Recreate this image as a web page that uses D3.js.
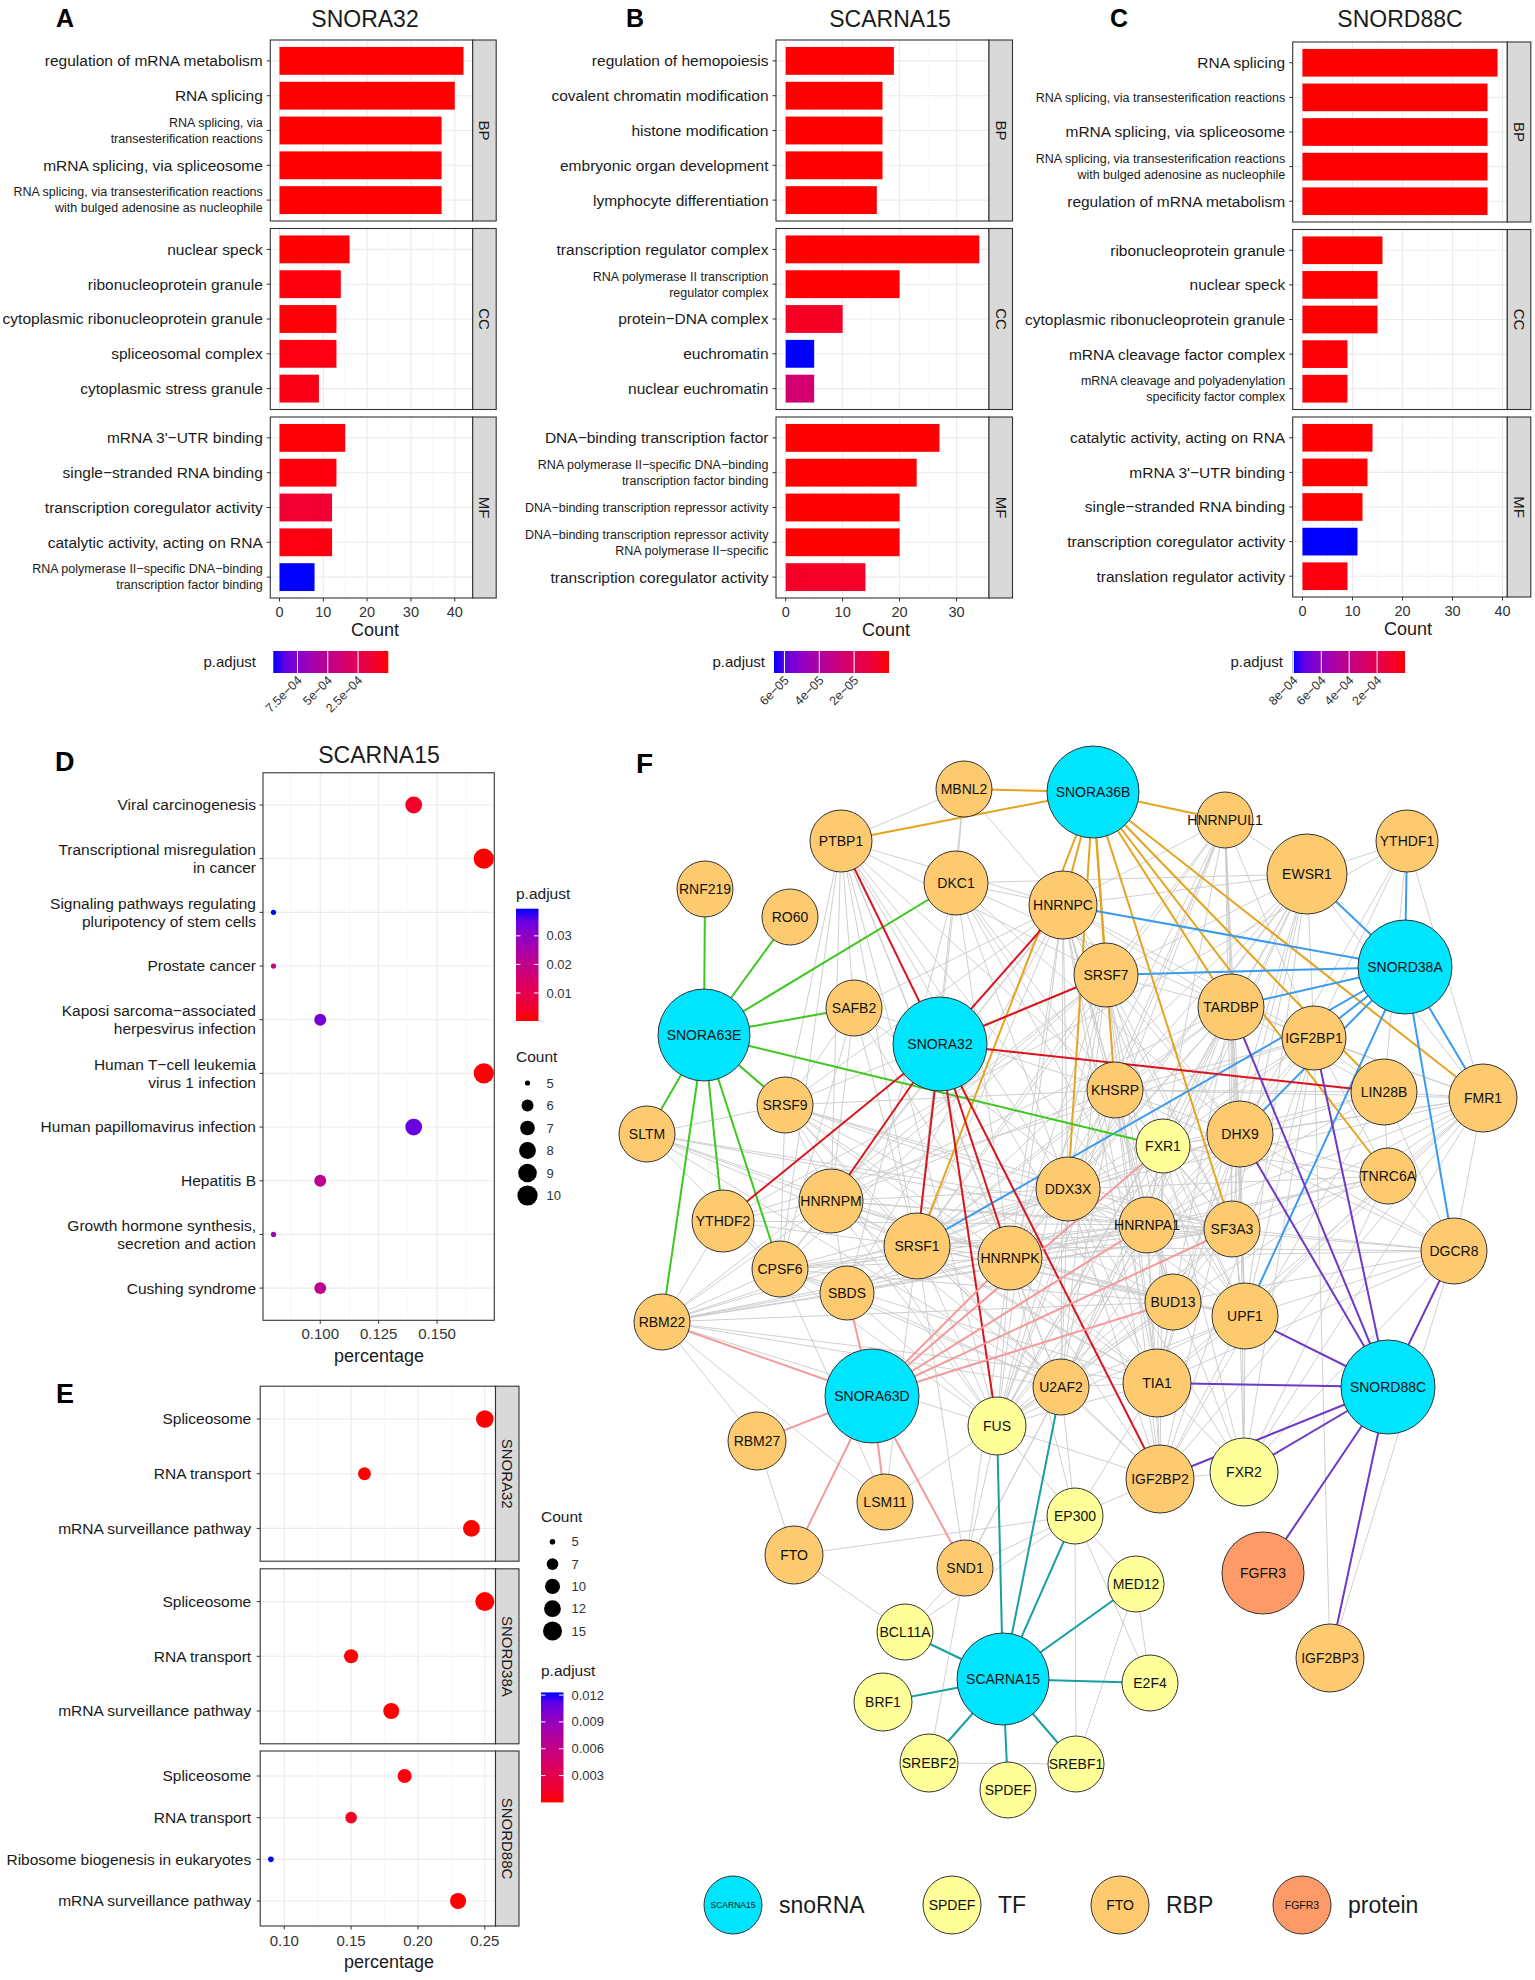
<!DOCTYPE html>
<html>
<head>
<meta charset="utf-8">
<title>snoRNA enrichment and network</title>
<script src="https://cdn.jsdelivr.net/npm/d3@7"></script>
<style>
  body { margin: 0; background: #fff; }
  svg { font-family: "Liberation Sans", Arial, Helvetica, sans-serif; }
</style>
</head>
<body>
<div id="figure"></div>
<script>
// ---------- data: GO barplots (A-C) ----------
const ontologies = ["BP", "CC", "MF"];

const termsA = [
  "regulation of mRNA metabolism", "RNA splicing", "RNA splicing, via\ntransesterification reactions",
  "mRNA splicing, via spliceosome", "RNA splicing, via transesterification reactions\nwith bulged adenosine as nucleophile",
  "nuclear speck", "ribonucleoprotein granule", "cytoplasmic ribonucleoprotein granule",
  "spliceosomal complex", "cytoplasmic stress granule",
  "mRNA 3'−UTR binding", "single−stranded RNA binding", "transcription coregulator activity",
  "catalytic activity, acting on RNA", "RNA polymerase II−specific DNA−binding\ntranscription factor binding"];
const countA = [42, 40, 37, 37, 37, 16, 14, 13, 13, 9, 15, 13, 12, 12, 8];
const padjA = [2e-9, 4e-9, 1e-8, 1e-8, 1e-8, 3e-6, 2e-5, 1e-5, 3e-5, 4e-5, 1e-5, 2e-5, 1.2e-4, 3e-5, 9.5e-4];
const legTicksA = [7.5e-4, 5e-4, 2.5e-4];
const legLabelsA = ["7.5e−04", "5e−04", "2.5e−04"];

const termsB = [
  "regulation of hemopoiesis", "covalent chromatin modification", "histone modification",
  "embryonic organ development", "lymphocyte differentiation",
  "transcription regulator complex", "RNA polymerase II transcription\nregulator complex",
  "protein−DNA complex", "euchromatin", "nuclear euchromatin",
  "DNA−binding transcription factor", "RNA polymerase II−specific DNA−binding\ntranscription factor binding",
  "DNA−binding transcription repressor activity", "DNA−binding transcription repressor activity\nRNA polymerase II−specific",
  "transcription coregulator activity"];
const countB = [19, 17, 17, 17, 16, 34, 20, 10, 5, 5, 27, 23, 20, 20, 14];
const padjB = [1e-9, 5e-9, 5e-9, 8e-9, 2e-8, 1e-10, 1e-8, 5.5e-6, 6.6e-5, 2.6e-5, 1e-9, 1e-9, 2e-9, 2e-9, 6.5e-6];
const legTicksB = [6e-5, 4e-5, 2e-5];
const legLabelsB = ["6e−05", "4e−05", "2e−05"];

const termsC = [
  "RNA splicing", "RNA splicing, via transesterification reactions", "mRNA splicing, via spliceosome",
  "RNA splicing, via transesterification reactions\nwith bulged adenosine as nucleophile", "regulation of mRNA metabolism",
  "ribonucleoprotein granule", "nuclear speck", "cytoplasmic ribonucleoprotein granule",
  "mRNA cleavage factor complex", "mRNA cleavage and polyadenylation\nspecificity factor complex",
  "catalytic activity, acting on RNA", "mRNA 3'−UTR binding", "single−stranded RNA binding",
  "transcription coregulator activity", "translation regulator activity"];
const countC = [39, 37, 37, 37, 37, 16, 15, 15, 9, 9, 14, 13, 12, 11, 9];
const padjC = [1e-9, 2e-9, 2e-9, 2e-9, 3e-9, 1e-6, 2e-6, 2e-6, 1e-5, 1e-5, 1e-6, 3e-6, 5e-6, 8.05e-4, 2e-5];
const legTicksC = [8e-4, 6e-4, 4e-4, 2e-4];
const legLabelsC = ["8e−04", "6e−04", "4e−04", "2e−04"];

// ---------- data: KEGG dotplot (D) ----------
const keggD = ["Viral carcinogenesis", "Transcriptional misregulation\nin cancer",
  "Signaling pathways regulating\npluripotency of stem cells", "Prostate cancer",
  "Kaposi sarcoma−associated\nherpesvirus infection", "Human T−cell leukemia\nvirus 1 infection",
  "Human papillomavirus infection", "Hepatitis B", "Growth hormone synthesis,\nsecretion and action",
  "Cushing syndrome"];
const pctD = [0.140, 0.170, 0.080, 0.080, 0.100, 0.170, 0.140, 0.100, 0.080, 0.100];
const countD = [8, 10, 5, 5, 6, 10, 8, 6, 5, 6];
const padjD = [0.004, 0.0002, 0.0395, 0.018, 0.033, 0.0005, 0.035, 0.021, 0.026, 0.021];
const xTicksD = [0.100, 0.125, 0.150];
const padjTicksD = [0.01, 0.02, 0.03];
const countBreaksD = [5, 6, 7, 8, 9, 10];

// ---------- data: KEGG dotplot per snoRNA (E) ----------
const snoE = ["SNORA32", "SNORD38A", "SNORD88C"];
const groupE = ["SNORA32", "SNORA32", "SNORA32", "SNORD38A", "SNORD38A", "SNORD38A",
  "SNORD88C", "SNORD88C", "SNORD88C", "SNORD88C"];
const keggE = ["Spliceosome", "RNA transport", "mRNA surveillance pathway",
  "Spliceosome", "RNA transport", "mRNA surveillance pathway",
  "Spliceosome", "RNA transport", "Ribosome biogenesis in eukaryotes", "mRNA surveillance pathway"];
const pctE = [0.25, 0.16, 0.24, 0.25, 0.15, 0.18, 0.19, 0.15, 0.09, 0.23];
const countE = [13, 8, 12, 15, 9, 11, 9, 7, 5, 11];
const padjE = [1e-9, 2e-6, 1e-8, 1e-10, 1e-5, 3e-7, 2e-4, 9e-4, 0.0123, 1e-5];
const xTicksE = [0.10, 0.15, 0.20, 0.25];
const padjTicksE = [0.003, 0.006, 0.009, 0.012];
const countBreaksE = [5, 7, 10, 12, 15];

// ---------- data: network (F) ----------
// name, type, layout x, layout y, node size
const nodes = [
  ["SNORA36B", "snoRNA", 477, 52, 46], ["SNORD38A", "snoRNA", 789, 227, 47],
  ["SNORA63E", "snoRNA", 88, 295, 46], ["SNORA32", "snoRNA", 324, 304, 47],
  ["SNORA63D", "snoRNA", 256, 656, 47], ["SNORD88C", "snoRNA", 772, 647, 47],
  ["SCARNA15", "snoRNA", 387, 939, 46],
  ["MBNL2", "RBP", 348, 49, 28], ["HNRNPUL1", "RBP", 609, 80, 28], ["PTBP1", "RBP", 225, 101, 31],
  ["YTHDF1", "RBP", 791, 101, 31], ["EWSR1", "RBP", 691, 134, 40], ["RNF219", "RBP", 89, 149, 28],
  ["DKC1", "RBP", 340, 143, 32], ["RO60", "RBP", 174, 177, 28], ["HNRNPC", "RBP", 447, 165, 34],
  ["SRSF7", "RBP", 490, 235, 32], ["TARDBP", "RBP", 615, 267, 33], ["SAFB2", "RBP", 238, 268, 28],
  ["IGF2BP1", "RBP", 698, 298, 32], ["LIN28B", "RBP", 768, 352, 33], ["FMR1", "RBP", 867, 358, 34],
  ["KHSRP", "RBP", 499, 350, 28], ["SRSF9", "RBP", 169, 365, 28], ["SLTM", "RBP", 31, 394, 28],
  ["FXR1", "TF", 547, 406, 27], ["DHX9", "RBP", 624, 394, 33], ["TNRC6A", "RBP", 772, 436, 28],
  ["DDX3X", "RBP", 452, 449, 32], ["YTHDF2", "RBP", 107, 481, 31], ["HNRNPM", "RBP", 215, 461, 32],
  ["HNRNPA1", "RBP", 531, 485, 28], ["SF3A3", "RBP", 616, 489, 28], ["DGCR8", "RBP", 838, 511, 33],
  ["SRSF1", "RBP", 301, 506, 33], ["HNRNPK", "RBP", 394, 518, 32], ["CPSF6", "RBP", 164, 529, 28],
  ["SBDS", "RBP", 231, 553, 27], ["BUD13", "RBP", 557, 562, 28], ["UPF1", "RBP", 629, 576, 33],
  ["RBM22", "RBP", 46, 582, 28], ["U2AF2", "RBP", 445, 647, 28], ["TIA1", "RBP", 541, 643, 34],
  ["FUS", "TF", 381, 686, 29], ["RBM27", "RBP", 141, 701, 29], ["IGF2BP2", "RBP", 544, 739, 34],
  ["FXR2", "TF", 628, 732, 34], ["LSM11", "RBP", 269, 762, 28], ["EP300", "TF", 459, 776, 28],
  ["FTO", "RBP", 178, 815, 29], ["SND1", "RBP", 349, 828, 28], ["MED12", "TF", 520, 844, 28],
  ["FGFR3", "protein", 647, 833, 41], ["IGF2BP3", "RBP", 714, 918, 34], ["BCL11A", "TF", 289, 892, 28],
  ["E2F4", "TF", 534, 943, 28], ["BRF1", "TF", 267, 962, 29], ["SREBF2", "TF", 313, 1023, 29],
  ["SREBF1", "TF", 460, 1024, 28], ["SPDEF", "TF", 392, 1050, 28]
];

const snoRNAs = ["SNORA36B", "SNORD38A", "SNORA63E", "SNORA32", "SNORA63D", "SNORD88C", "SCARNA15"];
const snoColors = ["#e6a31e", "#3a9bf0", "#3cc81e", "#d9141e", "#f59a9a", "#6b3ac6", "#16a0a0"];
const snora36bTargets = ["MBNL2", "PTBP1", "HNRNPUL1", "HNRNPC", "SRSF1", "DDX3X", "SRSF7", "KHSRP", "SF3A3", "TARDBP", "LIN28B", "TNRC6A", "FMR1"];
const snord38aTargets = ["YTHDF1", "EWSR1", "HNRNPC", "SRSF7", "TARDBP", "IGF2BP1", "DHX9", "SRSF1", "UPF1", "DGCR8", "FMR1"];
const snora63eTargets = ["RNF219", "RO60", "DKC1", "SAFB2", "SRSF9", "SLTM", "RBM22", "YTHDF2", "CPSF6", "FXR1"];
const snora32Targets = ["PTBP1", "HNRNPC", "SRSF7", "LIN28B", "YTHDF2", "HNRNPM", "SRSF1", "HNRNPK", "FUS", "IGF2BP2"];
const snora63dTargets = ["RBM22", "RBM27", "FTO", "LSM11", "SND1", "SBDS", "HNRNPK", "FXR1", "HNRNPA1", "SF3A3", "BUD13"];
const snord88cTargets = ["TARDBP", "IGF2BP1", "DHX9", "DGCR8", "UPF1", "TIA1", "FXR2", "IGF2BP2", "FGFR3", "IGF2BP3"];
const scarna15Targets = ["FUS", "U2AF2", "EP300", "MED12", "E2F4", "SREBF1", "SPDEF", "SREBF2", "BRF1", "BCL11A"];

// protein-protein links (grey), "source: targets"
const ppiLinks = [
  "PTBP1: MBNL2 HNRNPC SRSF7 KHSRP SRSF1 HNRNPK HNRNPM SRSF9 CPSF6 DDX3X HNRNPA1 U2AF2 TIA1 SAFB2 FUS",
  "MBNL2: HNRNPC DKC1 SRSF1",
  "DKC1: HNRNPC SBDS SRSF1 HNRNPK DDX3X TARDBP EWSR1 KHSRP DHX9 UPF1 HNRNPA1",
  "HNRNPUL1: HNRNPC SRSF7 TARDBP IGF2BP1 DHX9 KHSRP SRSF1 HNRNPK DDX3X HNRNPA1 EWSR1 UPF1 FUS SF3A3",
  "EWSR1: HNRNPC SRSF7 TARDBP DHX9 KHSRP HNRNPA1 SF3A3 IGF2BP1 FUS SRSF1 HNRNPK DDX3X U2AF2 FMR1 YTHDF1 UPF1 TIA1",
  "YTHDF1: IGF2BP1 FMR1 YTHDF2 DHX9 LIN28B",
  "HNRNPC: SRSF7 KHSRP SRSF1 HNRNPK DDX3X HNRNPA1 HNRNPM U2AF2 FUS TIA1 TARDBP IGF2BP1 DHX9 SF3A3 CPSF6 SRSF9 SAFB2 SBDS BUD13 UPF1 IGF2BP2",
  "SRSF7: KHSRP SRSF1 HNRNPK DDX3X HNRNPA1 TARDBP U2AF2 FUS SF3A3 SRSF9 HNRNPM CPSF6 DHX9 TIA1 BUD13 FXR1 RBM22",
  "TARDBP: KHSRP SRSF1 HNRNPK DDX3X HNRNPA1 IGF2BP1 DHX9 FUS TIA1 FMR1 FXR1 UPF1 LIN28B SF3A3 HNRNPM U2AF2 FXR2",
  "IGF2BP1: DHX9 LIN28B FMR1 FXR1 IGF2BP2 IGF2BP3 KHSRP HNRNPA1 TNRC6A UPF1 DDX3X FXR2 YTHDF2",
  "LIN28B: DHX9 FMR1 KHSRP HNRNPA1 TNRC6A DGCR8 IGF2BP2 FXR1",
  "FMR1: FXR1 FXR2 DHX9 KHSRP HNRNPA1 UPF1 TNRC6A DGCR8 DDX3X IGF2BP2 TIA1 FUS SF3A3",
  "KHSRP: SRSF1 HNRNPK DDX3X HNRNPA1 FXR1 DHX9 FUS TIA1 U2AF2 SF3A3 HNRNPM SRSF9 IGF2BP2 UPF1 DGCR8 SAFB2",
  "SAFB2: SRSF1 HNRNPK HNRNPM SRSF9 HNRNPA1 CPSF6",
  "SRSF9: SRSF1 HNRNPK HNRNPA1 SF3A3 U2AF2 DDX3X HNRNPM CPSF6 FUS TIA1 SLTM BUD13",
  "SLTM: HNRNPM SRSF1 HNRNPK CPSF6 HNRNPA1 SF3A3 U2AF2",
  "FXR1: FXR2 DHX9 HNRNPA1 DDX3X TIA1 UPF1 IGF2BP2 SF3A3 FUS TNRC6A",
  "DHX9: SRSF1 HNRNPK DDX3X HNRNPA1 UPF1 FUS TIA1 SF3A3 IGF2BP2 FXR2 DGCR8 BUD13 U2AF2 TNRC6A",
  "TNRC6A: HNRNPA1 UPF1 DDX3X SF3A3 DGCR8 FXR2 HNRNPK",
  "DDX3X: SRSF1 HNRNPK HNRNPA1 HNRNPM FUS TIA1 U2AF2 SF3A3 UPF1 IGF2BP2 SBDS CPSF6 RBM22 FXR2 BUD13",
  "YTHDF2: HNRNPM CPSF6 RBM22 SRSF1 HNRNPA1",
  "HNRNPM: SRSF1 HNRNPK HNRNPA1 SF3A3 U2AF2 FUS CPSF6 SBDS RBM22 BUD13 TIA1",
  "HNRNPA1: SRSF1 HNRNPK SF3A3 U2AF2 FUS TIA1 UPF1 BUD13 IGF2BP2 DGCR8 CPSF6 RBM22 FXR2 SND1",
  "SF3A3: SRSF1 HNRNPK U2AF2 BUD13 UPF1 DGCR8 RBM22 CPSF6 FUS SBDS",
  "DGCR8: UPF1 BUD13 HNRNPK SRSF1 FXR2 TIA1 IGF2BP3",
  "SRSF1: HNRNPK U2AF2 FUS TIA1 CPSF6 SBDS RBM22 BUD13 UPF1 IGF2BP2 SND1 LSM11",
  "HNRNPK: U2AF2 FUS TIA1 CPSF6 SBDS RBM22 BUD13 UPF1 IGF2BP2 SND1 EP300",
  "CPSF6: SBDS RBM22 U2AF2 FUS BUD13 TIA1 LSM11",
  "SBDS: RBM22 U2AF2 FUS",
  "BUD13: U2AF2 RBM22 UPF1 TIA1 FUS",
  "UPF1: TIA1 U2AF2 FUS IGF2BP2 FXR2",
  "RBM22: RBM27 U2AF2 FUS TIA1 LSM11",
  "U2AF2: FUS TIA1 SND1 IGF2BP2 EP300",
  "TIA1: FUS IGF2BP2 FXR2 EP300",
  "FUS: IGF2BP2 SND1 EP300 LSM11",
  "RBM27: FTO",
  "FTO: EP300 BCL11A",
  "IGF2BP2: EP300 FXR2",
  "EP300: SREBF1 E2F4 MED12 SND1 BCL11A",
  "SND1: BCL11A SREBF2",
  "MED12: E2F4 SREBF1",
  "SREBF2: SREBF1"
];

const nodeTypes = ["snoRNA", "TF", "RBP", "protein"];
const typeColors = ["#00e5ff", "#ffff99", "#fdca6f", "#fd9a67"];
const legendSamples = ["SCARNA15", "SPDEF", "FTO", "FGFR3"];

// ---------- drawing ----------
const svg = d3.select("#figure").append("svg")
  .attr("width", 1535)
  .attr("height", 1980);
const defs = svg.append("defs");
const ink = "#1a1a1a";
let gradId = 0;

const padjColor = values => d3.scaleLinear()
  .domain(d3.extent(values))
  .range(["red", "blue"])
  .interpolate(d3.interpolateLab);

function expand(ext, f) {
  const d = ext[1] - ext[0];
  return [ext[0] - f * d, ext[1] + f * d];
}

// multi-line label, vertically centred on y
function label(g, txt, x, y, size, lh, anchor) {
  const lines = txt.split("\n");
  const t = g.append("text")
    .attr("x", x).attr("y", y)
    .attr("font-size", size)
    .attr("text-anchor", anchor)
    .attr("fill", ink);
  lines.forEach((s, i) => {
    t.append("tspan")
      .attr("x", x)
      .attr("dy", i === 0 ? (-(lines.length - 1) / 2 * lh + 0.35 * size) : lh)
      .text(s);
  });
  return t;
}

function gradient(color, lo, hi, x1, y1, x2, y2) {
  const id = "grad" + (gradId++);
  const gr = defs.append("linearGradient").attr("id", id)
    .attr("x1", x1).attr("y1", y1).attr("x2", x2).attr("y2", y2);
  d3.range(0, 1.0001, 0.1).forEach(t => {
    gr.append("stop").attr("offset", t).attr("stop-color", color(hi - t * (hi - lo)));
  });
  return "url(#" + id + ")";
}

function grid(g, x, vals, y0, y1, col, w) {
  g.selectAll(null).data(vals).join("line")
    .attr("x1", d => x(d)).attr("x2", d => x(d))
    .attr("y1", y0).attr("y2", y1)
    .attr("stroke", col).attr("stroke-width", w);
}

function strip(g, x0, top, h, txt, size) {
  g.append("rect").attr("x", x0).attr("y", top).attr("width", 23.5).attr("height", h)
    .attr("fill", "#d9d9d9").attr("stroke", "#333").attr("stroke-width", 1.1);
  g.append("text")
    .attr("transform", `translate(${x0 + 11.75},${top + h / 2}) rotate(90)`)
    .attr("text-anchor", "middle").attr("dy", "0.35em")
    .attr("font-size", size).attr("fill", ink).text(txt);
}

// ---------- A-C: barplots ----------
function barPanel(p) {
  const g = svg.append("g");
  const maxC = d3.max(p.count);
  const x = d3.scaleLinear().domain([-0.05 * maxC, 1.05 * maxC]).range([p.left, p.right]);
  const fill = padjColor(p.padj);
  const majors = d3.range(0, x.domain()[1], 10);
  const minors = d3.range(5, x.domain()[1], 10);

  g.append("text").attr("x", p.letterX).attr("y", 27).attr("font-size", 25)
    .attr("font-weight", "bold").attr("fill", "#000").text(p.letter);
  g.append("text").attr("x", p.titleX).attr("y", 27).attr("font-size", 23)
    .attr("text-anchor", "middle").attr("fill", ink).text(p.title);

  ontologies.forEach((ont, k) => {
    const top = p.top + k * (p.h + p.gap);
    const rows = d3.range(k * 5, k * 5 + 5);
    const y = d3.scalePoint().domain(rows).range([top, top + p.h]).padding(0.6);
    const bw = y.step() * 0.8;

    grid(g, x, minors, top, top + p.h, "#f4f4f4", 0.6);
    grid(g, x, majors, top, top + p.h, "#ebebeb", 1.1);
    g.selectAll(null).data(rows).join("line")
      .attr("x1", p.left).attr("x2", p.right)
      .attr("y1", i => y(i)).attr("y2", i => y(i))
      .attr("stroke", "#ebebeb").attr("stroke-width", 1.1);

    g.selectAll(null).data(rows).join("rect")
      .attr("x", x(0))
      .attr("y", i => y(i) - bw / 2)
      .attr("width", i => x(p.count[i]) - x(0))
      .attr("height", bw)
      .attr("fill", i => fill(p.padj[i]));

    g.append("rect").attr("x", p.left).attr("y", top)
      .attr("width", p.right - p.left).attr("height", p.h)
      .attr("fill", "none").attr("stroke", "#333").attr("stroke-width", 1.1);
    strip(g, p.right, top, p.h, ont, 15);

    rows.forEach(i => {
      g.append("line").attr("x1", p.left - 3.5).attr("x2", p.left)
        .attr("y1", y(i)).attr("y2", y(i)).attr("stroke", "#333");
      const t = p.terms[i];
      const small = t.replace("\n", " ").length > 38;
      label(g, t, p.left - 7.5, y(i), small ? 12.5 : 15.5, 16, "end");
    });
  });

  const bottom = p.top + 3 * p.h + 2 * p.gap;
  majors.forEach(v => {
    g.append("line").attr("x1", x(v)).attr("x2", x(v))
      .attr("y1", bottom).attr("y2", bottom + 3.5).attr("stroke", "#333");
    g.append("text").attr("x", x(v)).attr("y", bottom + 14).attr("dy", "0.35em")
      .attr("text-anchor", "middle").attr("font-size", 14.5).attr("fill", "#333").text(v);
  });
  g.append("text").attr("x", p.countX).attr("y", bottom + 32).attr("dy", "0.35em")
    .attr("text-anchor", "middle").attr("font-size", 18).attr("fill", ink).text("Count");

  // colour bar legend
  const ext = d3.extent(p.padj);
  const cb = d3.scaleLinear().domain([ext[1], ext[0]]).range([p.cbLeft, p.cbRight]);
  const cbTop = 651, cbH = 22;
  g.append("rect").attr("x", p.cbLeft).attr("y", cbTop)
    .attr("width", p.cbRight - p.cbLeft).attr("height", cbH)
    .attr("fill", gradient(fill, ext[0], ext[1], "0%", "0%", "100%", "0%"));
  p.legTicks.forEach((v, i) => {
    g.append("line").attr("x1", cb(v)).attr("x2", cb(v))
      .attr("y1", cbTop).attr("y2", cbTop + cbH).attr("stroke", "#fff").attr("stroke-width", 1);
    g.append("text")
      .attr("transform", `translate(${cb(v) + 2},${cbTop + cbH + 5}) rotate(-45)`)
      .attr("text-anchor", "end").attr("dy", "0.35em")
      .attr("font-size", 12.5).attr("fill", "#333").text(p.legLabels[i]);
  });
  g.append("text").attr("x", p.padjX).attr("y", cbTop + cbH / 2).attr("dy", "0.35em")
    .attr("text-anchor", "end").attr("font-size", 15).attr("fill", ink).text("p.adjust");
}

barPanel({ letter: "A", letterX: 56, title: "SNORA32", titleX: 365, terms: termsA, count: countA, padj: padjA,
  left: 270.3, right: 472.7, top: 40, h: 181, gap: 7.5, countX: 375,
  cbLeft: 273.3, cbRight: 388.3, padjX: 256, legTicks: legTicksA, legLabels: legLabelsA });
barPanel({ letter: "B", letterX: 626, title: "SCARNA15", titleX: 890, terms: termsB, count: countB, padj: padjB,
  left: 776, right: 989, top: 40, h: 181, gap: 7.5, countX: 886,
  cbLeft: 774, cbRight: 889, padjX: 765, legTicks: legTicksB, legLabels: legLabelsB });
barPanel({ letter: "C", letterX: 1110, title: "SNORD88C", titleX: 1400, terms: termsC, count: countC, padj: padjC,
  left: 1292.7, right: 1507.3, top: 42, h: 180, gap: 7.5, countX: 1408,
  cbLeft: 1292.7, cbRight: 1405, padjX: 1283, legTicks: legTicksC, legLabels: legLabelsC });

// ---------- shared dot-plot legends ----------
function padjLegend(g, color, values, ticks, x0, top, bottom, titleY) {
  const ext = d3.extent(values);
  const s = d3.scaleLinear().domain(ext).range([bottom, top]);
  g.append("text").attr("x", x0).attr("y", titleY).attr("dy", "0.35em")
    .attr("font-size", 15.5).attr("fill", ink).text("p.adjust");
  g.append("rect").attr("x", x0).attr("y", top).attr("width", 22.5).attr("height", bottom - top)
    .attr("fill", gradient(color, ext[0], ext[1], "0%", "0%", "0%", "100%"));
  ticks.forEach(v => {
    [[x0, x0 + 4.5], [x0 + 18, x0 + 22.5]].forEach(([a, b]) => {
      g.append("line").attr("x1", a).attr("x2", b).attr("y1", s(v)).attr("y2", s(v))
        .attr("stroke", "#fff").attr("stroke-width", 1);
    });
    g.append("text").attr("x", x0 + 30.5).attr("y", s(v)).attr("dy", "0.35em")
      .attr("font-size", 13).attr("fill", "#333").text(v);
  });
}

function countLegend(g, radius, breaks, x0, titleY, firstY, stepY) {
  g.append("text").attr("x", x0).attr("y", titleY).attr("dy", "0.35em")
    .attr("font-size", 15.5).attr("fill", ink).text("Count");
  breaks.forEach((v, i) => {
    g.append("circle").attr("cx", x0 + 11.5).attr("cy", firstY + i * stepY).attr("r", radius(v)).attr("fill", "#000");
    g.append("text").attr("x", x0 + 30.5).attr("y", firstY + i * stepY).attr("dy", "0.35em")
      .attr("font-size", 13).attr("fill", "#333").text(v);
  });
}

function sizeScale(values, rMin, rMax) {
  const norm = d3.scaleLinear().domain(d3.extent(values)).range([0, 1]).clamp(true);
  const r = d3.scaleSqrt().domain([0, 1]).range([rMin, rMax]);
  return v => r(norm(v));
}

// ---------- D: KEGG dot plot ----------
(function () {
  const g = svg.append("g");
  const left = 263, right = 494.3, top = 772.8, bottom = 1320.3;
  const x = d3.scaleLinear().domain(expand(d3.extent(pctD), 0.05)).range([left, right]);
  const y = d3.scalePoint().domain(d3.range(keggD.length)).range([top, bottom]).padding(0.6);
  const color = padjColor(padjD);
  const radius = sizeScale(countD, 2.6, 10.1);

  g.append("text").attr("x", 55).attr("y", 771).attr("font-size", 27)
    .attr("font-weight", "bold").attr("fill", "#000").text("D");
  g.append("text").attr("x", 379).attr("y", 763).attr("font-size", 23)
    .attr("text-anchor", "middle").attr("fill", ink).text("SCARNA15");

  grid(g, x, [0.0875, 0.1125, 0.1375, 0.1625], top, bottom, "#f4f4f4", 0.6);
  grid(g, x, xTicksD, top, bottom, "#ebebeb", 1.1);
  g.selectAll(null).data(keggD).join("line")
    .attr("x1", left).attr("x2", right)
    .attr("y1", (d, i) => y(i)).attr("y2", (d, i) => y(i))
    .attr("stroke", "#ebebeb").attr("stroke-width", 1.1);

  g.selectAll(null).data(keggD).join("circle")
    .attr("cx", (d, i) => x(pctD[i]))
    .attr("cy", (d, i) => y(i))
    .attr("r", (d, i) => radius(countD[i]))
    .attr("fill", (d, i) => color(padjD[i]));

  g.append("rect").attr("x", left).attr("y", top).attr("width", right - left).attr("height", bottom - top)
    .attr("fill", "none").attr("stroke", "#333").attr("stroke-width", 1.1);

  keggD.forEach((t, i) => {
    g.append("line").attr("x1", left - 3.5).attr("x2", left).attr("y1", y(i)).attr("y2", y(i)).attr("stroke", "#333");
    label(g, t, left - 7, y(i), 15.5, 18.5, "end");
  });
  xTicksD.forEach(v => {
    g.append("line").attr("x1", x(v)).attr("x2", x(v)).attr("y1", bottom).attr("y2", bottom + 3.5).attr("stroke", "#333");
    g.append("text").attr("x", x(v)).attr("y", bottom + 13).attr("dy", "0.35em").attr("text-anchor", "middle")
      .attr("font-size", 15).attr("fill", "#333").text(d3.format(".3f")(v));
  });
  g.append("text").attr("x", 379).attr("y", 1356).attr("dy", "0.35em").attr("text-anchor", "middle")
    .attr("font-size", 18).attr("fill", ink).text("percentage");

  padjLegend(g, color, padjD, padjTicksD, 516, 908.7, 1021, 894);
  countLegend(g, radius, countBreaksD, 516, 1057, 1083, 22.5);
})();

// ---------- E: KEGG dot plot faceted by snoRNA ----------
(function () {
  const g = svg.append("g");
  const left = 260.2, right = 495.5;
  const facetTop = [1386.2, 1568.8, 1751], facetH = 175;
  const x = d3.scaleLinear().domain(expand(d3.extent(pctE), 0.05)).range([left, right]);
  const color = padjColor(padjE);
  const radius = sizeScale(countE, 2.8, 9.5);

  g.append("text").attr("x", 56).attr("y", 1403).attr("font-size", 27)
    .attr("font-weight", "bold").attr("fill", "#000").text("E");

  snoE.forEach((sno, k) => {
    const top = facetTop[k], bottom = top + facetH;
    const idx = d3.range(groupE.length).filter(i => groupE[i] === sno);
    const y = d3.scalePoint().domain(idx).range([top, bottom]).padding(0.6);

    grid(g, x, [0.125, 0.175, 0.225], top, bottom, "#f4f4f4", 0.6);
    grid(g, x, xTicksE, top, bottom, "#ebebeb", 1.1);
    g.selectAll(null).data(idx).join("line")
      .attr("x1", left).attr("x2", right).attr("y1", i => y(i)).attr("y2", i => y(i))
      .attr("stroke", "#ebebeb").attr("stroke-width", 1.1);
    g.selectAll(null).data(idx).join("circle")
      .attr("cx", i => x(pctE[i])).attr("cy", i => y(i))
      .attr("r", i => radius(countE[i])).attr("fill", i => color(padjE[i]));
    g.append("rect").attr("x", left).attr("y", top).attr("width", right - left).attr("height", facetH)
      .attr("fill", "none").attr("stroke", "#333").attr("stroke-width", 1.1);
    strip(g, right, top, facetH, sno, 15);
    idx.forEach(i => {
      g.append("line").attr("x1", left - 3.5).attr("x2", left).attr("y1", y(i)).attr("y2", y(i)).attr("stroke", "#333");
      label(g, keggE[i], left - 9, y(i), 15.5, 18.5, "end");
    });
  });

  const bottom = facetTop[2] + facetH;
  xTicksE.forEach(v => {
    g.append("line").attr("x1", x(v)).attr("x2", x(v)).attr("y1", bottom).attr("y2", bottom + 3.5).attr("stroke", "#333");
    g.append("text").attr("x", x(v)).attr("y", bottom + 14.5).attr("dy", "0.35em").attr("text-anchor", "middle")
      .attr("font-size", 15).attr("fill", "#333").text(d3.format(".2f")(v));
  });
  g.append("text").attr("x", 389).attr("y", 1962).attr("dy", "0.35em").attr("text-anchor", "middle")
    .attr("font-size", 18).attr("fill", ink).text("percentage");

  countLegend(g, radius, countBreaksE, 541, 1516.7, 1541.8, 22.3);
  padjLegend(g, color, padjE, padjTicksE, 541, 1692.4, 1802.4, 1670.4);
})();

// ---------- F: snoRNA - protein network ----------
(function () {
  const g = svg.append("g");
  const nx = d3.scaleLinear().domain([0, 919]).range([616, 1535]);
  const ny = d3.scaleLinear().domain([0, 1240]).range([740, 1980]);
  const nr = s => nx(s) - nx(0);
  const byName = new Map(nodes.map(n => [n[0], n]));
  const fillOf = type => typeColors[nodeTypes.indexOf(type)];

  g.append("text").attr("x", 636).attr("y", 773).attr("font-size", 28)
    .attr("font-weight", "bold").attr("fill", "#000").text("F");

  const grey = [];
  ppiLinks.forEach(row => {
    const [src, rest] = row.split(":");
    rest.trim().split(/\s+/).forEach(t => grey.push([src.trim(), t]));
  });
  const targetLists = [snora36bTargets, snord38aTargets, snora63eTargets, snora32Targets,
    snora63dTargets, snord88cTargets, scarna15Targets];
  const colored = [];
  snoRNAs.forEach((s, k) => targetLists[k].forEach(t => colored.push([s, t, snoColors[k]])));

  g.selectAll(null).data(grey).join("line")
    .attr("x1", d => nx(byName.get(d[0])[2])).attr("y1", d => ny(byName.get(d[0])[3]))
    .attr("x2", d => nx(byName.get(d[1])[2])).attr("y2", d => ny(byName.get(d[1])[3]))
    .attr("stroke", "#c9c9c9").attr("stroke-width", 0.9);

  g.selectAll(null).data(colored).join("line")
    .attr("x1", d => nx(byName.get(d[0])[2])).attr("y1", d => ny(byName.get(d[0])[3]))
    .attr("x2", d => nx(byName.get(d[1])[2])).attr("y2", d => ny(byName.get(d[1])[3]))
    .attr("stroke", d => d[2]).attr("stroke-width", 2);

  const node = g.selectAll(null).data(nodes).join("g")
    .attr("transform", d => `translate(${nx(d[2])},${ny(d[3])})`);
  node.append("circle").attr("r", d => nr(d[4]))
    .attr("fill", d => fillOf(d[1])).attr("stroke", "#333").attr("stroke-width", 1);
  node.append("text").attr("text-anchor", "middle").attr("dy", "0.35em")
    .attr("font-size", 14).attr("fill", "#111").text(d => d[0]);

  // legend
  const legX = [733, 952, 1120, 1302];
  nodeTypes.forEach((type, i) => {
    const cx = legX[i], cy = 1905;
    const s = legendSamples[i];
    g.append("circle").attr("cx", cx).attr("cy", cy).attr("r", 29)
      .attr("fill", typeColors[i]).attr("stroke", "#333").attr("stroke-width", 1);
    g.append("text").attr("x", cx).attr("y", cy).attr("dy", "0.35em").attr("text-anchor", "middle")
      .attr("font-size", s.length > 5 ? 8.5 : (type === "protein" ? 10.5 : 14)).attr("fill", "#111").text(s);
    g.append("text").attr("x", cx + 46).attr("y", cy).attr("dy", "0.35em")
      .attr("font-size", 23).attr("fill", ink).text(type);
  });
})();
</script>
</body>
</html>
